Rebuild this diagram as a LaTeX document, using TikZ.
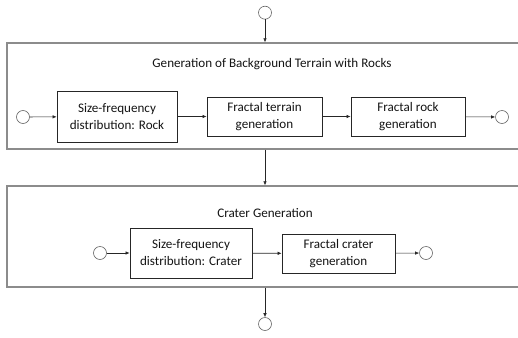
\documentclass[tikz,border=0pt]{standalone}
\usepackage{fontspec}
\setmainfont{Carlito}
\usetikzlibrary{positioning,arrows.meta}

\begin{document}
\begin{tikzpicture}[
            x=1pt, y=-1pt,
            flow/.style={draw=black!85, line width=.6pt, -{Latex[length=4pt,width=3.5pt]}},
            every node/.style={align=center, font=\fontsize{13.1}{17}\selectfont, text=black!92}
        ]
        
        % Define styles for nodes
        \tikzset{
            port/.style={circle, draw=black!60, fill=white, line width=.6pt, minimum size=13pt, inner sep=0pt},
            stage/.style={rectangle, draw=black!45, line width=1.3pt, inner sep=0pt},
            task/.style={rectangle, draw=black!85, line width=.8pt, inner sep=0pt}
        }
        \useasboundingbox (0,0) rectangle (518,337);
        
        % Stages
        \node[stage, minimum width=525pt, minimum height=106pt] (background) at (269.5,96) {};
        \node[stage, minimum width=525pt, minimum height=101pt] (craters) at (269.5,236.5) {};
        \node (backgroundTitle) at (272,64) {Generation of Background Terrain with Rocks};
        \node (cratersTitle) at (265,213) {Crater Generation};
        
        % Start and end
        \node[port] (start) at (265,12.7) {};
        \node[port] (finish) at (265,324) {};
        
        % Stage 1: Background terrain
        \node[port] (bgIn) at (23,117) {};
        \node[task, minimum width=120pt, minimum height=51pt] (rockSFD) at (117,116.5) {Size-frequency\\distribution: Rock};
        \node[task, minimum width=115pt, minimum height=39pt] (terrain) at (264.5,116.5) {Fractal terrain\\generation};
        \node[task, minimum width=114pt, minimum height=39pt] (rocks) at (408,116.5) {Fractal rock\\generation};
        \node[port] (bgOut) at (502,117) {};
        
        % Stage 2: Craters
        \node[port] (crIn) at (100,253) {};
        \node[task, minimum width=122pt, minimum height=50pt] (craterSFD) at (191,253) {Size-frequency\\distribution: Crater};
        \node[task, minimum width=113pt, minimum height=39pt] (craterGen) at (338.5,253.5) {Fractal crater\\generation};
        \node[port] (crOut) at (426,253) {};
        
        % Connectors
        \draw[flow] (start) -- (start |- background.north);
        \draw[flow] (start |- background.south) -- (start |- craters.north);
        \draw[flow] (start |- craters.south) -- (finish);
        \draw[flow] (bgIn) -- (rockSFD);
        \draw[flow] (rockSFD) -- (terrain);
        \draw[flow] (terrain) -- (rocks);
        \draw[flow] (rocks) -- (bgOut);
        \draw[flow] (crIn) -- (craterSFD);
        \draw[flow] (craterSFD) -- (craterGen);
        \draw[flow] (craterGen) -- (crOut);
        
        \end{tikzpicture}
\end{document}
